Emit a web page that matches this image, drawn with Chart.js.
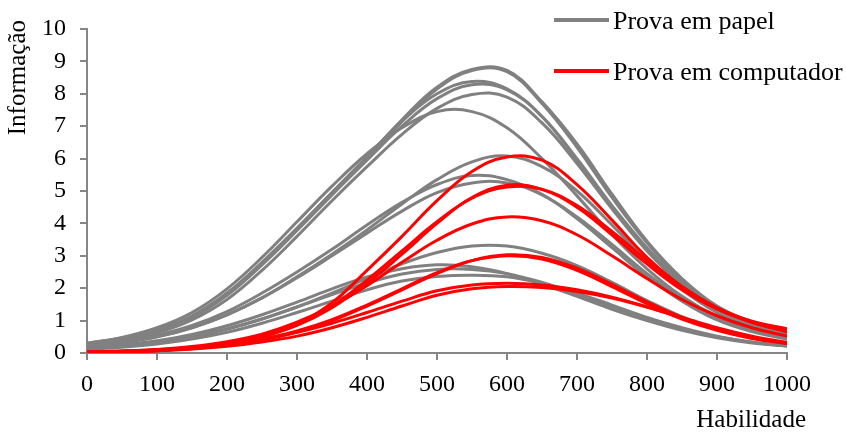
<!DOCTYPE html>
<html><head><meta charset="utf-8">
<script src="https://cdn.jsdelivr.net/npm/chart.js@4.4.1/dist/chart.umd.min.js"></script>
<style>html,body{margin:0;padding:0;background:#fff;}#wrap{position:relative;width:846px;height:432px;}</style>
</head><body><div id="wrap"><canvas id="c" width="846" height="432"></canvas></div>
<script>
// Habilidade (x) sample points
const habilidade = [0,50,100,150,200,250,300,350,400,450,500,550,600,650,700,750,800,850,900,950,1000];
const xTicks = [0,100,200,300,400,500,600,700,800,900,1000];
const yTicks = [0,1,2,3,4,5,6,7,8,9,10];
const labelPapel = "Prova em papel";
const labelComputador = "Prova em computador";
const xTitle = "Habilidade";
const yTitle = "Informação";

// Prova em papel (grey curves)
const papel1  = [0.30,0.46,0.72,1.15,1.85,2.80,3.85,4.95,6.05,7.20,8.20,8.75,8.72,7.75,6.45,4.90,3.45,2.30,1.45,0.95,0.62];
const papel2  = [0.28,0.44,0.70,1.12,1.80,2.75,3.80,4.90,6.00,7.15,8.15,8.72,8.68,7.70,6.35,4.80,3.40,2.25,1.42,0.93,0.60];
const papel3  = [0.27,0.43,0.70,1.13,1.82,2.78,3.85,4.95,6.05,7.15,8.00,8.38,8.15,7.30,5.95,4.50,3.20,2.15,1.37,0.90,0.58];
const papel4  = [0.26,0.42,0.68,1.10,1.78,2.72,3.78,4.88,5.95,7.00,7.85,8.28,8.12,7.30,6.00,4.55,3.25,2.18,1.40,0.90,0.58];
const papel5  = [0.24,0.38,0.62,1.02,1.65,2.55,3.60,4.70,5.75,6.75,7.55,7.98,7.90,7.10,5.85,4.45,3.15,2.10,1.35,0.88,0.57];
const papel6  = [0.30,0.48,0.78,1.25,1.98,2.95,4.05,5.15,6.15,6.95,7.45,7.45,6.95,6.00,4.85,3.65,2.60,1.75,1.13,0.74,0.50];
const papel7  = [0.20,0.32,0.50,0.78,1.18,1.70,2.35,3.05,3.80,4.60,5.35,5.90,6.08,5.75,5.00,3.95,2.85,1.95,1.25,0.80,0.50];
const papel8  = [0.22,0.35,0.55,0.85,1.28,1.85,2.50,3.20,3.95,4.65,5.20,5.48,5.35,4.90,4.15,3.25,2.35,1.60,1.02,0.66,0.43];
const papel9  = [0.20,0.32,0.50,0.78,1.18,1.70,2.32,3.00,3.70,4.38,4.95,5.25,5.25,4.88,4.20,3.35,2.45,1.68,1.08,0.70,0.45];
const papel10 = [0.14,0.22,0.34,0.50,0.74,1.05,1.42,1.85,2.30,2.75,3.10,3.30,3.30,3.08,2.70,2.18,1.62,1.12,0.74,0.48,0.30];
const papel11 = [0.16,0.25,0.38,0.57,0.84,1.18,1.57,1.98,2.35,2.60,2.72,2.66,2.45,2.12,1.75,1.35,1.00,0.70,0.47,0.31,0.21];
const papel12 = [0.13,0.21,0.33,0.50,0.74,1.05,1.42,1.80,2.16,2.44,2.58,2.58,2.45,2.18,1.82,1.42,1.05,0.74,0.50,0.33,0.22];
const papel13 = [0.11,0.18,0.28,0.43,0.64,0.92,1.25,1.60,1.95,2.22,2.36,2.40,2.35,2.15,1.85,1.48,1.10,0.78,0.52,0.34,0.22];

// Prova em computador (red curves)
const comp1 = [0.02,0.04,0.08,0.15,0.28,0.50,0.88,1.55,2.55,3.60,4.70,5.60,6.05,5.95,5.20,4.10,2.95,2.05,1.40,0.98,0.75];
const comp2 = [0.02,0.04,0.08,0.15,0.28,0.50,0.85,1.40,2.15,3.05,4.00,4.80,5.18,5.05,4.50,3.65,2.75,1.95,1.35,0.95,0.68];
const comp3 = [0.03,0.05,0.09,0.16,0.30,0.52,0.90,1.45,2.25,3.15,4.05,4.78,5.12,5.05,4.55,3.75,2.85,2.00,1.38,0.95,0.65];
const comp4 = [0.03,0.06,0.11,0.20,0.35,0.58,0.95,1.45,2.08,2.80,3.48,3.98,4.20,4.08,3.65,3.00,2.30,1.65,1.15,0.78,0.52];
const comp5 = [0.02,0.04,0.07,0.13,0.23,0.40,0.65,1.00,1.45,1.95,2.45,2.85,3.03,2.95,2.62,2.12,1.58,1.10,0.73,0.47,0.30];
const comp6 = [0.03,0.05,0.09,0.15,0.26,0.43,0.68,1.03,1.48,1.98,2.48,2.85,3.00,2.90,2.55,2.05,1.52,1.05,0.70,0.45,0.29];
const comp7 = [0.03,0.06,0.10,0.17,0.28,0.43,0.64,0.92,1.25,1.60,1.92,2.10,2.15,2.10,1.95,1.72,1.42,1.08,0.75,0.48,0.30];
const comp8 = [0.02,0.04,0.07,0.12,0.21,0.34,0.52,0.78,1.10,1.45,1.78,1.98,2.05,2.02,1.90,1.70,1.42,1.10,0.78,0.52,0.33];

const papelSeries = [papel1,papel2,papel3,papel4,papel5,papel6,papel7,papel8,papel9,papel10,papel11,papel12,papel13];
const compSeries = [comp1,comp2,comp3,comp4,comp5,comp6,comp7,comp8];

const GREY = '#808080', RED = '#ff0000', AXIS = '#868686';
const FONT = "'Liberation Serif','Times New Roman',serif";

function mk(arr, color, label){
  return {label: label, data: habilidade.map((h,i)=>({x:h, y:arr[i]})), borderColor: color, backgroundColor: color,
    borderWidth: 3, pointRadius: 0, pointHoverRadius: 0, fill: false, tension: 0.4};
}
const datasets = [];
compSeries.forEach((s,i)=>datasets.push(mk(s, RED, i===0?labelComputador:'')));
papelSeries.forEach((s,i)=>datasets.push(mk(s, GREY, i===0?labelPapel:'')));

const textPlugin = {
  id: 'customLegendAndTitles',
  afterDraw(chart){
    const ctx = chart.ctx;
    const items = [{t: labelPapel, c: GREY, y: 20, ty: 22}, {t: labelComputador, c: RED, y: 71, ty: 73}];
    ctx.save();
    items.forEach(it=>{
      ctx.strokeStyle = it.c; ctx.lineWidth = 4; ctx.lineCap = 'butt';
      ctx.beginPath(); ctx.moveTo(554, it.y); ctx.lineTo(609, it.y); ctx.stroke();
      ctx.fillStyle = '#000'; ctx.font = "26px " + FONT; ctx.textBaseline = 'middle'; ctx.textAlign = 'left';
      ctx.fillText(it.t, 613, it.ty);
    });
    // axis titles
    ctx.font = "25px " + FONT; ctx.fillStyle = '#000';
    ctx.textAlign = 'right'; ctx.textBaseline = 'middle';
    ctx.fillText(xTitle, 806, 420);
    ctx.translate(18, 20); ctx.rotate(-Math.PI/2);
    ctx.textAlign = 'right'; ctx.fillText(yTitle, 0, 0);
    ctx.restore();
  }
};

new Chart(document.getElementById('c'), {
  type: 'line',
  data: {datasets},
  options: {
    responsive: false, animation: false, devicePixelRatio: 1,
    layout: {padding: {top: 29, right: 59, left: 0, bottom: 0}},
    plugins: {legend: {display: false}, tooltip: {enabled: false}},
    scales: {
      x: {type: 'linear', min: 0, max: 1000,
        afterBuildTicks: s => { s.ticks = xTicks.map(v=>({value:v})); },
        afterFit: s => { s.height = 79; },
        ticks: {font: {family: FONT, size: 24}, color: '#000', padding: 10, maxRotation: 0, autoSkip: false, callback: v => String(v)},
        grid: {drawOnChartArea: false, drawTicks: true, tickLength: 7, color: AXIS, lineWidth: 2},
        border: {color: AXIS, width: 2},
        title: {display: false, text: xTitle}
      },
      y: {type: 'linear', min: 0, max: 10,
        afterBuildTicks: s => { s.ticks = yTicks.map(v=>({value:v})); },
        afterFit: s => { s.width = 87; },
        ticks: {font: {family: FONT, size: 24}, color: '#000', padding: 14, autoSkip: false, callback: v => String(v)},
        grid: {drawOnChartArea: false, drawTicks: true, tickLength: 7, color: AXIS, lineWidth: 2},
        border: {color: AXIS, width: 2},
        title: {display: false, text: yTitle}
      }
    }
  },
  plugins: [textPlugin]
});
</script>
</body></html>
